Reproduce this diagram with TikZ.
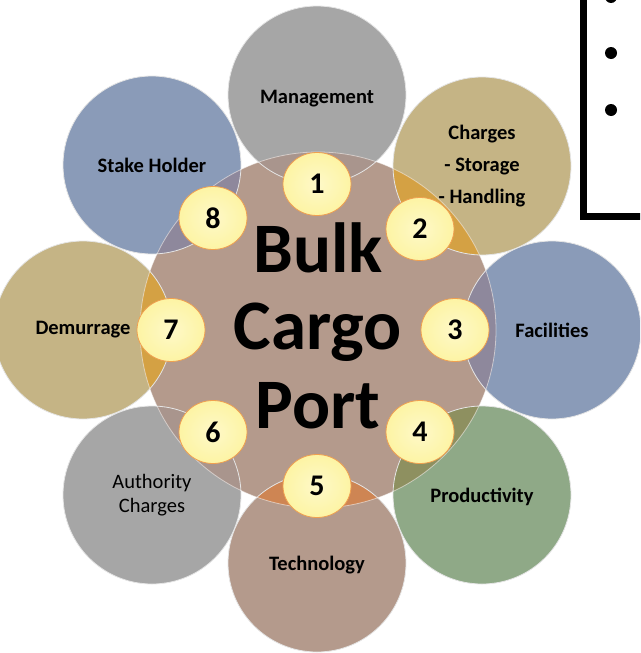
\documentclass[tikz,border=0pt]{standalone}
\usepackage{fontspec}
\setmainfont{Carlito}
\usetikzlibrary{shapes.geometric}
\definecolor{cCtr}{HTML}{B49A8C}
\definecolor{cGray}{HTML}{A6A6A6}
\definecolor{cTan}{HTML}{C5B485}
\definecolor{cBlue}{HTML}{8A9BB8}
\definecolor{cGreen}{HTML}{8FA987}
\definecolor{cBrown}{HTML}{B49A8C}
\definecolor{oMg}{HTML}{A9958D}
\definecolor{oTan}{HTML}{D4A144}
\definecolor{oBlue}{HTML}{8E889C}
\definecolor{oGreen}{HTML}{8E9060}
\definecolor{oTech}{HTML}{CE8553}
\definecolor{numFill}{HTML}{FDF4A4}
\definecolor{numEdge}{HTML}{F0A050}
\newcommand{\lowertxt}[2]{\raisebox{-#1}[\height][\depth]{#2}}
\tikzset{
  outer/.style={circle, minimum size=178pt, inner sep=0pt, font=\fontsize{20.5}{25}\selectfont\bfseries, align=center},
  rim/.style={draw=white!80!gray, line width=0.8pt},
  numbox/.style={ellipse, minimum width=68pt, minimum height=63pt, inner sep=0pt,
     draw=numEdge, line width=0.8pt, inner color=numFill!60!white, outer color=numFill,
     font=\fontsize{30}{32}\selectfont\bfseries},
  bigtxt/.style={anchor=base, font=\fontsize{71}{74}\selectfont\bfseries}
}
\begin{document}
\begin{tikzpicture}[x=1pt,y=-1pt]
\useasboundingbox (0,0) rectangle (640,653);
\clip (0,0) rectangle (640,653);
% outer circles
\node[outer, fill=cGray]  (mg) at (317,95)  {\lowertxt{4pt}{Management}};
\node[outer, fill=cTan]   (ch) at (482,166) {Charges\\[7pt]- Storage\\[7pt]- Handling};
\node[outer, fill=cBlue]  (fa) at (552,330) {Facilities};
\node[outer, fill=cGreen] (pr) at (482,495) {\lowertxt{2pt}{Productivity}};
\node[outer, fill=cBrown] (te) at (317,563) {\lowertxt{2pt}{Technology}};
\node[outer, fill=cGray, font=\fontsize{20.5}{24}\selectfont] (au) at (152,495) {Authority\\Charges};
\node[outer, fill=cTan]   (de) at (83,330)  {Demurrage};
\node[outer, fill=cBlue]  (st) at (152,165) {Stake Holder};
% center circle
\node[circle, minimum size=356pt, inner sep=0pt, fill=cCtr] (ctr) at (318,330) {};
% overlaps
\foreach \n/\c in {mg/oMg, ch/oTan, fa/oBlue, pr/oGreen, te/oTech, au/oMg, de/oTan, st/oBlue}{
  \begin{scope}
    \clip (\n.center) circle[radius=89pt];
    \fill[\c] (ctr.center) circle[radius=178pt];
  \end{scope}
}
% rims
\foreach \n in {mg,ch,fa,pr,te,au,de,st}{
  \draw[rim] (\n.center) circle[radius=89pt];
}
\draw[white, opacity=0.5, line width=0.8pt] (ctr.center) circle[radius=178pt];
% numbers
\node[numbox] (n1) at (317,184) {1};
\node[numbox] (n2) at (420,229) {2};
\node[numbox] (n3) at (455,330) {3};
\node[numbox] (n4) at (420,432) {4};
\node[numbox] (n5) at (317,486) {5};
\node[numbox] (n6) at (213,432) {6};
\node[numbox] (n7) at (171,330) {7};
\node[numbox] (n8) at (213,218) {8};
% title
\node[bigtxt] (t1) at (318,272) {Bulk};
\node[bigtxt] (t2) at (318,349) {Cargo};
\node[bigtxt] (t3) at (318,428) {Port};
% box
\draw[line width=7pt, fill=white] (583.5,-20) rectangle (680,216.5);
\fill (611,-3) circle[radius=6pt];
\fill (611,53) circle[radius=6pt];
\fill (611,110) circle[radius=6pt];
\end{tikzpicture}
\end{document}
